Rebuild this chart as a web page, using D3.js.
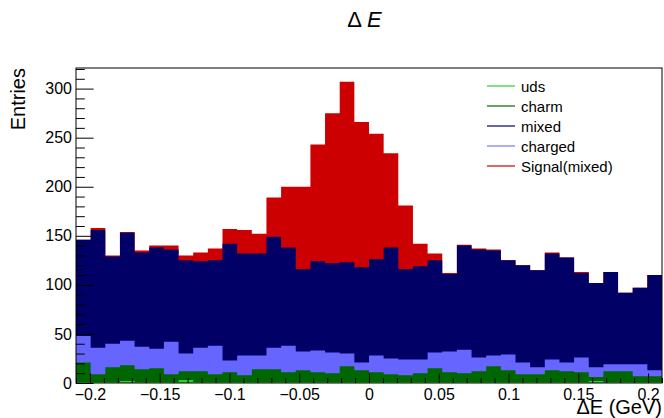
<!DOCTYPE html>
<html>
<head>
<meta charset="utf-8">
<script src="https://cdn.jsdelivr.net/npm/d3@7"></script>
<style>
  body { margin: 0; background: #fff; }
  svg { display: block; font-family: "Liberation Sans", Arial, sans-serif; }
</style>
</head>
<body>
<svg id="chart" width="664" height="418"></svg>
<script>
// binning of the Delta E histogram
const xMin = -0.21;
const xMax = 0.21;
const nBins = 40;

// entries per bin, one array per sample
const uds = [1, 1, 1, 2, 1, 1, 1, 3, 1, 1, 1, 1, 1, 1, 1, 1, 1, 1, 1, 1,
             1, 1, 1, 1, 1, 1, 1, 1, 1, 1, 1, 1, 1, 1, 1, 2, 1, 1, 1, 1];
const charm = [20, 8, 15, 16, 13, 14, 8, 9, 11, 8, 10, 7, 13, 13, 10, 12, 10, 9, 16, 12,
               10, 8, 7, 9, 14, 10, 9, 11, 16, 12, 8, 8, 12, 11, 10, 4, 11, 11, 6, 6];
const charged = [27, 27, 24, 25, 23, 20, 33, 18, 24, 29, 12, 20, 14, 22, 27, 19, 22, 21, 13, 8,
                 17, 16, 16, 14, 16, 21, 24, 14, 11, 16, 12, 7, 11, 9, 15, 10, 7, 7, 12, 6];
const mixed = [98, 120, 89, 110, 96, 103, 94, 95, 88, 87, 119, 104, 104, 113, 100, 84, 91, 91, 93, 97,
               98, 113, 92, 95, 94, 79, 106, 110, 107, 96, 99, 99, 108, 107, 86, 86, 94, 73, 78, 97];
const signal = [0, 2, 1, 1, 2, 2, 4, 5, 9, 12, 15, 24, 20, 40, 62, 84, 119, 153, 184, 148,
                128, 96, 65, 23, 7, 1, 1, 1, 1, 0, 0, 0, 1, 0, 1, 0, 0, 0, 0, 0];

// legend entries (top to bottom) and stacking order (bottom to top)
const legendNames = ["uds", "charm", "mixed", "charged", "Signal(mixed)"];
const legendKeys = ["uds", "charm", "mixed", "charged", "signal"];
const stackKeys = ["uds", "charm", "charged", "mixed", "signal"];

const xTicks = [-0.2, -0.15, -0.1, -0.05, 0, 0.05, 0.1, 0.15, 0.2];
const xTickLabels = ["\u22120.2", "\u22120.15", "\u22120.1", "\u22120.05", "0", "0.05", "0.1", "0.15", "0.2"];
const yTicks = [0, 50, 100, 150, 200, 250, 300];
const yMax = 321;

const colors = {
    uds: "#33cc33",
    charm: "#006600",
    charged: "#6666ff",
    mixed: "#000066",
    signal: "#cc0000",
};
const legendColors = {
    uds: "#33cc33",
    charm: "#006600",
    charged: "#7777ff",
    mixed: "#000066",
    signal: "#cc0000",
};

const margin = { top: 68, right: 2, bottom: 35, left: 76 };
const width = 664;
const height = 418;

const svg = d3.select("#chart");

const x = d3.scaleLinear().domain([xMin, xMax]).range([margin.left, width - margin.right]);
const y = d3.scaleLinear().domain([0, yMax]).range([height - margin.bottom, margin.top]);

const binEdge = (i) => xMin + (i * (xMax - xMin)) / nBins;

const rows = d3.range(nBins).map((i) => ({
    uds: uds[i],
    charm: charm[i],
    charged: charged[i],
    mixed: mixed[i],
    signal: signal[i],
}));

const series = d3.stack().keys(stackKeys)(rows);

const area = d3
    .area()
    .x((p) => x(p.x))
    .y0(y(0))
    .y1((p) => y(p.v));

// draw like THStack: cumulative histograms from the top one down, each filled from zero
const histGroup = svg.append("g");
series
    .slice()
    .reverse()
    .forEach((s) => {
        const pts = s.flatMap((d, i) => [
            { x: binEdge(i), v: d[1] },
            { x: binEdge(i + 1), v: d[1] },
        ]);
        histGroup
            .append("path")
            .datum(pts)
            .attr("d", area)
            .style("fill", colors[s.key])
            .style("stroke", "none");
    });

// x axis: major and minor ticks pointing into the frame
const xAxisG = svg.append("g").attr("transform", `translate(0, ${y(0)})`);
xAxisG
    .call(
        d3
            .axisBottom(x)
            .tickValues(xTicks)
            .tickSize(-9.5)
            .tickPadding(6)
            .tickFormat((d, i) => xTickLabels[i])
    )
    .call((g) => g.select(".domain").remove())
    .call((g) =>
        g.selectAll("text").style("font-size", "16px").style("font-family", '"Liberation Sans", Arial, sans-serif').attr("fill", "#000")
    );

const xMinor = d3.range(-21, 22).map((k) => k / 100).filter((v) => !xTicks.some((t) => Math.abs(t - v) < 1e-9));
svg.append("g")
    .attr("transform", `translate(0, ${y(0)})`)
    .call(d3.axisBottom(x).tickValues(xMinor).tickSize(-5).tickFormat(""))
    .call((g) => g.select(".domain").remove());

// y axis
const yAxisG = svg.append("g").attr("transform", `translate(${margin.left}, 0)`);
yAxisG
    .call(d3.axisLeft(y).tickValues(yTicks).tickSize(-17.6).tickPadding(4))
    .call((g) => g.select(".domain").remove())
    .call((g) =>
        g.selectAll("text").style("font-size", "16px").style("font-family", '"Liberation Sans", Arial, sans-serif').attr("fill", "#000")
    );

const yMinor = d3.range(10, yMax, 10).filter((v) => v % 50 != 0);
svg.append("g")
    .attr("transform", `translate(${margin.left}, 0)`)
    .call(d3.axisLeft(y).tickValues(yMinor).tickSize(-8.8).tickFormat(""))
    .call((g) => g.select(".domain").remove());

// frame
svg.append("rect")
    .attr("x", margin.left)
    .attr("y", margin.top)
    .attr("width", width - margin.right - margin.left)
    .attr("height", height - margin.bottom - margin.top)
    .style("fill", "none")
    .style("stroke", "#000")
    .style("stroke-width", 1);

// title
const title = svg
    .append("text")
    .attr("x", 364.5)
    .attr("y", 27)
    .attr("text-anchor", "middle")
    .style("font-size", "22px");
title.append("tspan").text("\u0394 ");
title.append("tspan").style("font-style", "italic").text("E");

// axis titles
svg.append("text")
    .attr("x", width - margin.right)
    .attr("y", 414)
    .attr("text-anchor", "end")
    .style("font-size", "20px")
    .text("\u0394E (GeV)");

svg.append("text")
    .attr("transform", `translate(25, ${margin.top}) rotate(-90)`)
    .attr("text-anchor", "end")
    .style("font-size", "20px")
    .text("Entries");

// legend
const legend = svg.append("g").attr("transform", "translate(487, 86)");
legendKeys.forEach((k, i) => {
    const row = legend.append("g").attr("transform", `translate(0, ${i * 20})`);
    row.append("line")
        .attr("x1", 0)
        .attr("x2", 28)
        .attr("y1", 0)
        .attr("y2", 0)
        .style("stroke", legendColors[k])
        .style("stroke-width", 1.2);
    row.append("text")
        .attr("x", 34)
        .attr("y", 5.5)
        .style("font-size", "15px")
        .text(legendNames[i]);
});
</script>
</body>
</html>
